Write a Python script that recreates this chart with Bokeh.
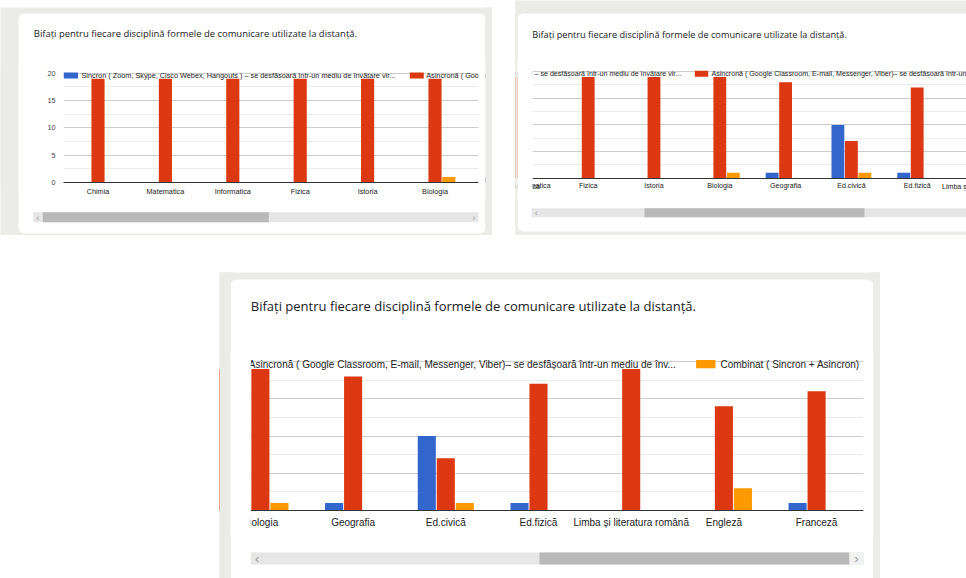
from bokeh.plotting import figure
from bokeh.models import Range1d, FixedTicker, BoxAnnotation, Label, Spacer, ColumnDataSource
from bokeh.layouts import row, column
from bokeh.transform import dodge
from bokeh.embed import file_html
from bokeh.resources import INLINE

# ---------------- data ----------------
TITLE = "Bifați pentru fiecare disciplină formele de comunicare utilizate la distanță."
categories = ["Chimia", "Matematica", "Informatica", "Fizica", "Istoria", "Biologia",
              "Geografia", "Ed.civică", "Ed.fizică", "Limba și literatura română",
              "Engleză", "Franceză"]
sincron = [0, 0, 0, 0, 0, 0, 1, 10, 1, 0, 0, 1]
asincron = [19, 19, 19, 19, 19, 19, 18, 7, 17, 19, 14, 16]
combinat = [0, 0, 0, 0, 0, 1, 0, 1, 0, 0, 3, 0]
series_keys = ["sincron", "asincron", "combinat"]
series_labels = [
    "Sincron ( Zoom, Skype, Cisco Webex, Hangouts ) – se desfășoară într-un mediu de învățare vir...",
    "Asincronă ( Google Classroom, E-mail, Messenger, Viber)– se desfășoară într-un mediu de înv...",
    "Combinat ( Sincron + Asincron)",
]
series_colors = ["#3366cc", "#dc3912", "#ff9900"]
y_ticks = [0, 5, 10, 15, 20]
y_minor_ticks = [2.5, 7.5, 12.5, 17.5]

GRAY = "#ebebe8"
TXT = "#222222"
CHART_FONT = "Liberation Sans"
TITLE_FONT = "Open Sans"
BAR_OFFSETS = [-0.205, 0.0, 0.205]
BAR_WIDTH = 0.195

source = ColumnDataSource(dict(x=list(range(len(categories))), cat=categories,
                               sincron=sincron, asincron=asincron, combinat=combinat))

# Three "scrolled" screenshots of the same chart. Geometry in page pixels.
panels = [
    dict(origin=(0, 7), W=492, H=228, ppx=67.4, anchor=(0, 97.5), ppy=5.465, base=182,
         view=(63, 478), edge_labels=(False, False), card=(18, 485, 13, 233),
         title=(33.3, 33.3, 9.45), font=7.3, x_standoff=4, xlab_y=190, show_y=True,
         legend_y=75, swatch_h=6,
         legend=[("sw", 0, 63.3, 77.5), ("txt", 0, 81, "left"),
                 ("sw", 1, 409.3, 423.3), ("txt", 1, 425.7, "left")],
         masks=[(-6, 18, 70, 185, GRAY, "underlay"), (18, 63, 70, 185, "white", "underlay"),
                (478, 485, 62, 200, "white", "underlay"), (485, 500, 0, 240, GRAY, "underlay"),
                (478, 485, 62, 200, "white", "overlay"), (485, 500, 0, 240, GRAY, "overlay")],
         track=(32.7, 478, 211.7, 221.7), thumb=(42.3, 268.3), button=None,
         arrows=[("‹", 37.3), ("›", 473.3)]),
    dict(origin=(515, 0), W=451, H=235, ppx=65.8, anchor=(3, 587.7), ppy=5.33, base=177.7,
         view=(532, 966), edge_labels=(True, True), card=(517, 980, 13, 231),
         title=(531.7, 34.3, 9.2), font=7.1, x_standoff=4, xlab_y=186, show_y=False,
         legend_y=73.3, swatch_h=6,
         legend=[("txt", 0, 680.7, "right"), ("sw", 1, 694.3, 707.7), ("txt", 1, 711, "left")],
         masks=[(500, 517, -5, 240, GRAY, "underlay"), (517, 532, 60, 200, "white", "underlay"),
                (500, 517, -5, 240, GRAY, "overlay"), (517, 532, 60, 200, "white", "overlay")],
         track=(531, 966, 207.7, 216.7), thumb=(644, 864), button=None,
         arrows=[("‹", 535.7)]),
    dict(origin=(219, 272), W=661, H=306, ppx=92.7, anchor=(6, 352.6), ppy=7.45, base=510,
         view=(250.3, 863.1), edge_labels=(False, False), card=(230, 873, 279, 600),
         title=(250.3, 305, 13.0), font=10, x_standoff=6, xlab_y=521.7, show_y=False,
         legend_y=363.7, swatch_h=8.3,
         legend=[("txt", 1, 248.3, "left"), ("sw", 2, 695.6, 715), ("txt", 2, 720, "left")],
         masks=[(200, 230, 265, 590, GRAY, "underlay"), (230, 250.3, 352, 535, "white", "underlay"),
                (863.1, 873, 352, 535, "white", "underlay"), (873, 890, 265, 590, GRAY, "underlay"),
                (200, 230, 265, 590, GRAY, "overlay"), (230, 250.3, 352, 535, "white", "overlay"),
                (863.1, 873, 352, 535, "white", "overlay"), (873, 890, 265, 590, GRAY, "overlay")],
         track=(250.3, 863.1, 552, 564), thumb=(539, 849), button=(849, 863.1),
         arrows=[("‹", 256.6), ("›", 856)]),
]


def build(cfg):
    W, H = cfg["W"], cfg["H"]
    ox, oy = cfg["origin"]
    k, kx = cfg["anchor"]
    ppx, ppy = cfg["ppx"], cfg["ppy"]
    x_start = k - (kx - ox) / ppx
    x_end = x_start + W / ppx
    y_end = (cfg["base"] - oy) / ppy
    y_start = y_end - H / ppy
    vx0 = k + (cfg["view"][0] - kx) / ppx
    vx1 = k + (cfg["view"][1] - kx) / ppx

    p = figure(width=W, height=H, x_range=Range1d(x_start, x_end), y_range=Range1d(y_start, y_end),
               toolbar_location=None, tools="", output_backend="svg",
               y_axis_location="left" if cfg["show_y"] else None,
               min_border=0, border_fill_color=GRAY, background_fill_color=GRAY,
               outline_line_color=None)

    def X(x):
        return x - ox

    def Y(y):
        return y - oy

    def box(x0, x1, y0, y1, color, level, radius=0):
        p.add_layout(BoxAnnotation(left=X(x0), right=X(x1), top=Y(y0), bottom=Y(y1),
                                   left_units="canvas", right_units="canvas",
                                   top_units="canvas", bottom_units="canvas",
                                   fill_color=color, fill_alpha=1.0, line_color=None,
                                   level=level, border_radius=radius))

    def text(x, y, s, size, color=TXT, font=CHART_FONT, align="left", level="annotation"):
        p.add_layout(Label(x=X(x), y=Y(y), x_units="canvas", y_units="canvas", text=s,
                           text_font=font, text_font_size=f"{size}px", text_color=color,
                           text_align=align, text_baseline="middle", level=level))

    # white card
    c0, c1, c2, c3 = cfg["card"]
    box(c0, c1, c2, c3, "white", "image", 6)

    # bars
    for key, color, off in zip(series_keys, series_colors, BAR_OFFSETS):
        p.vbar(x=dodge("x", off, range=p.x_range), top=key, bottom=0, width=BAR_WIDTH,
               source=source, fill_color=color, line_color=None)

    # grid (restricted to the chart viewport where supported)
    p.xgrid.visible = False
    for g in p.ygrid:
        g.ticker = FixedTicker(ticks=y_ticks, minor_ticks=y_minor_ticks)
        g.grid_line_color = "#cccccc"
        g.minor_grid_line_color = "#ebebeb"
        if hasattr(g, "cross_bounds"):
            g.cross_bounds = (vx0, vx1)

    # category axis, pinned at the value 0 baseline, limited to the chart viewport
    fs = cfg["font"]
    xa = p.xaxis[0]
    xa.fixed_location = 0
    xa.bounds = (vx0, vx1)
    xa.ticker = FixedTicker(ticks=list(range(len(categories))))
    xa.major_label_overrides = {i: c for i, c in enumerate(categories)}
    xa.major_tick_line_color = None
    xa.major_tick_out = 0
    xa.major_tick_in = 0
    xa.minor_tick_line_color = None
    xa.axis_line_color = "#333333"
    xa.major_label_text_font = CHART_FONT
    xa.major_label_text_font_size = f"{fs}px"
    xa.major_label_text_color = TXT
    xa.major_label_standoff = cfg["x_standoff"]
    # categories that are scrolled half out of the viewport
    left_edge, right_edge = cfg["edge_labels"]
    for i, c in enumerate(categories):
        if (left_edge and vx0 - 1 < i < vx0) or (right_edge and vx1 < i < vx1 + 1):
            p.add_layout(Label(x=i, x_units="data", y=Y(cfg["xlab_y"]), y_units="canvas",
                               text=c, text_font=CHART_FONT, text_font_size=f"{fs}px",
                               text_color=TXT, text_align="center", text_baseline="middle"))

    if cfg["show_y"]:
        ya = p.yaxis[0]
        ya.fixed_location = vx0
        ya.bounds = (0, 20)
        ya.ticker = FixedTicker(ticks=y_ticks)
        ya.axis_line_color = None
        ya.major_tick_line_color = None
        ya.major_tick_out = 0
        ya.major_tick_in = 0
        ya.minor_tick_line_color = None
        ya.major_label_text_font = CHART_FONT
        ya.major_label_text_font_size = f"{fs}px"
        ya.major_label_text_color = "#444444"
        ya.major_label_standoff = 8

    # title
    tx, ty, ts = cfg["title"]
    text(tx, ty, TITLE, ts, color="#202124", font=TITLE_FONT)

    # legend
    ly = cfg["legend_y"]
    sh = cfg["swatch_h"]
    for item in cfg["legend"]:
        if item[0] == "sw":
            _, s, a, b = item
            box(a, b, ly - sh / 2, ly + sh / 2, series_colors[s], "annotation")
        else:
            _, s, a, align = item
            text(a, ly, series_labels[s], fs, align=align)

    # horizontal scrollbar of the chart viewport
    t0, t1, s0, s1 = cfg["track"]
    box(t0, t1, s0, s1, "#e6e6e6", "annotation")
    h0, h1 = cfg["thumb"]
    box(h0, h1, s0, s1, "#b9b9b9", "annotation")
    if cfg["button"]:
        b0, b1 = cfg["button"]
        box(b0, b1, s0, s1, "#f1f1f1", "annotation")
    for ch, ax in cfg["arrows"]:
        text(ax, (s0 + s1) / 2, ch, fs * 1.3, color="#9a9a9a", align="center")

    # viewport masks (content scrolled out of the chart area)
    for a, b, y0, y1, color, level in cfg["masks"]:
        box(a, b, y0, y1, color, level)
    return p


f1, f2, f3 = [build(c) for c in panels]

layout = column(
    row(column(Spacer(width=492, height=7), f1), Spacer(width=23, height=235), f2),
    Spacer(width=10, height=37),
    row(Spacer(width=219, height=306), f3),
)

open("out.html", "w").write(file_html(layout, INLINE, title="Bifați pentru fiecare disciplină"))
